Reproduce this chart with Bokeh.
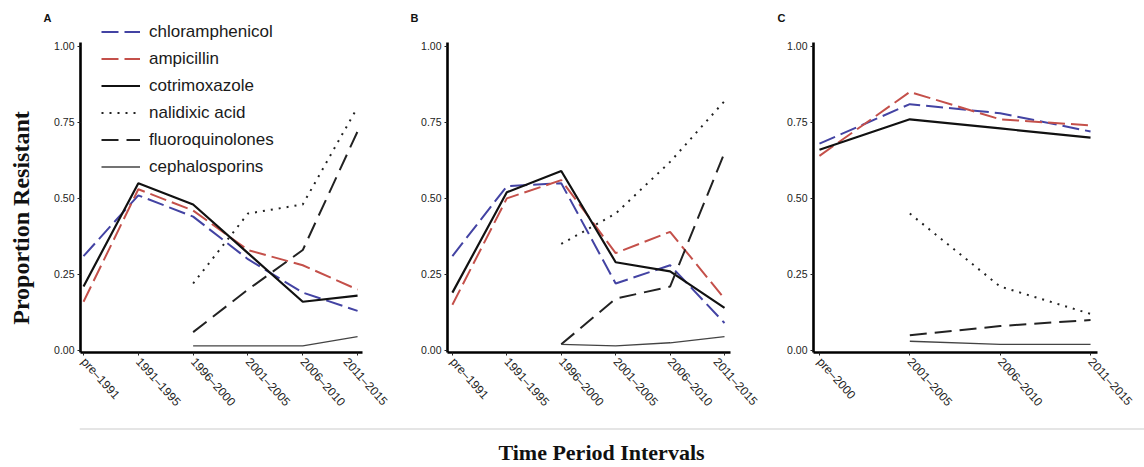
import math
from bokeh.plotting import figure
from bokeh.layouts import column, row
from bokeh.models import (Range1d, FixedTicker, NumeralTickFormatter, Legend,
                          LegendItem, Label, Span, LinearAxis)
from bokeh.embed import file_html
from bokeh.resources import INLINE

nan = float("nan")

# ---------------- data ----------------
periods_ab = ["pre\u20131991", "1991\u20131995", "1996\u20132000",
              "2001\u20132005", "2006\u20132010", "2011\u20132015"]
periods_c = ["pre\u20132000", "2001\u20132005", "2006\u20132010", "2011\u20132015"]

drugs = ["chloramphenicol", "ampicillin", "cotrimoxazole",
         "nalidixic acid", "fluoroquinolones", "cephalosporins"]

# Panel A
chloramphenicol_a = [0.31, 0.51, 0.44, 0.30, 0.19, 0.13]
ampicillin_a = [0.16, 0.53, 0.46, 0.33, 0.28, 0.20]
cotrimoxazole_a = [0.21, 0.55, 0.48, 0.32, 0.16, 0.18]
nalidixic_a = [nan, nan, 0.22, 0.45, 0.48, 0.80]
fluoroquinolones_a = [nan, nan, 0.06, 0.20, 0.33, 0.72]
cephalosporins_a = [nan, nan, 0.015, 0.015, 0.015, 0.045]

# Panel B
chloramphenicol_b = [0.31, 0.54, 0.55, 0.22, 0.28, 0.09]
ampicillin_b = [0.15, 0.50, 0.56, 0.32, 0.39, 0.17]
cotrimoxazole_b = [0.19, 0.52, 0.59, 0.29, 0.26, 0.14]
nalidixic_b = [nan, nan, 0.35, 0.45, 0.62, 0.82]
fluoroquinolones_b = [nan, nan, 0.02, 0.17, 0.21, 0.65]
cephalosporins_b = [nan, nan, 0.02, 0.015, 0.025, 0.045]

# Panel C
chloramphenicol_c = [0.68, 0.81, 0.78, 0.72]
ampicillin_c = [0.64, 0.85, 0.76, 0.74]
cotrimoxazole_c = [0.66, 0.76, 0.73, 0.70]
nalidixic_c = [nan, 0.45, 0.21, 0.12]
fluoroquinolones_c = [nan, 0.05, 0.08, 0.10]
cephalosporins_c = [nan, 0.03, 0.02, 0.02]

y_ticks = [0.0, 0.25, 0.50, 0.75, 1.0]

# ---------------- styles ----------------
styles = {
    "chloramphenicol": dict(line_color="#4343a3", line_dash="17 6", line_width=2.0),
    "ampicillin": dict(line_color="#c4504a", line_dash="17 6", line_width=2.0),
    "cotrimoxazole": dict(line_color="#111111", line_width=2.2),
    "nalidixic acid": dict(line_color="#222222", line_dash="2 6", line_width=2.0),
    "fluoroquinolones": dict(line_color="#222222", line_dash="17 8", line_width=2.0),
    "cephalosporins": dict(line_color="#444444", line_width=1.3),
}

FONT = "Liberation Sans"
SERIF = "Liberation Serif"
PANEL_H = 428
FRAME_TOP = 23
FRAME_BOTTOM = 352          # pixel row of the x axis line
PX_PER_UNIT = 304.0
Y0, Y1 = -0.007, 1.013
Y_END = Y0 + (FRAME_BOTTOM - FRAME_TOP) / PX_PER_UNIT


def make_panel(periods, series, width, b_left, b_right, x_start, x_end,
               letter, letter_offset):
    p = figure(width=width, height=PANEL_H, output_backend="svg", toolbar_location=None,
               x_range=Range1d(x_start, x_end), y_range=Range1d(Y0, Y_END),
               min_border_left=b_left, min_border_right=b_right,
               min_border_top=FRAME_TOP, min_border_bottom=PANEL_H - FRAME_BOTTOM)
    p.outline_line_color = None
    p.xgrid.visible = False
    p.ygrid.visible = False
    p.background_fill_color = "white"
    p.border_fill_color = "white"

    xs = list(range(len(periods)))
    renderers = {}
    for name, vals in zip(drugs, series):
        renderers[name] = p.line(xs, vals, **styles[name])

    for ax in (p.xaxis[0], p.yaxis[0]):
        ax.axis_line_color = "black"
        ax.axis_line_width = 2.6
        ax.major_tick_line_color = "#222222"
        ax.major_tick_line_width = 1
        ax.major_tick_out = 3
        ax.major_tick_in = 0
        ax.minor_tick_line_color = None
        ax.major_label_text_font = FONT
        ax.major_label_text_color = "#222222"

    p.xaxis.ticker = FixedTicker(ticks=xs)
    p.xaxis.major_label_overrides = {i: lab for i, lab in enumerate(periods)}
    p.xaxis.major_label_orientation = -0.84
    p.xaxis.major_label_text_font_size = "12px"
    p.xaxis.major_label_standoff = 4

    p.yaxis.ticker = FixedTicker(ticks=y_ticks)
    p.yaxis.formatter = NumeralTickFormatter(format="0.00")
    p.yaxis.major_label_text_font_size = "10.5px"
    p.yaxis.major_label_standoff = 3
    p.yaxis.bounds = (Y0, Y1)

    p.title.text = letter
    p.title.align = "left"
    p.title.offset = letter_offset
    p.title.standoff = 0
    p.title.text_font = FONT
    p.title.text_font_style = "bold"
    p.title.text_font_size = "11px"
    p.title.text_color = "#111111"
    return p, renderers


pA, rA = make_panel(periods_ab,
                    [chloramphenicol_a, ampicillin_a, cotrimoxazole_a,
                     nalidixic_a, fluoroquinolones_a, cephalosporins_a],
                    390, 80, 28, -0.055, 5.09, "A", -37)
pB, rB = make_panel(periods_ab,
                    [chloramphenicol_b, ampicillin_b, cotrimoxazole_b,
                     nalidixic_b, fluoroquinolones_b, cephalosporins_b],
                    370, 57, 30, -0.09, 5.11, "B", -37)
pC, rC = make_panel(periods_c,
                    [chloramphenicol_c, ampicillin_c, cotrimoxazole_c,
                     nalidixic_c, fluoroquinolones_c, cephalosporins_c],
                    384, 53, 47, -0.066, 3.077, "C", -36)

# Y axis title: a tick-less extra axis; trailing wide spaces move the visible
# words down to where the reference has them
ytitle_axis = LinearAxis(ticker=FixedTicker(ticks=[]),
                         axis_line_color=None, major_tick_line_color=None,
                         minor_tick_line_color=None, major_tick_out=0, minor_tick_out=0,
                         major_label_standoff=0, major_label_text_font_size="1px",
                         axis_label="Proportion Resistant\u2003\u2003\u2002",
                         axis_label_standoff=18,
                         axis_label_text_font=SERIF, axis_label_text_font_style="bold",
                         axis_label_text_font_size="24px", axis_label_text_color="#111111")
pA.add_layout(ytitle_axis, "left")

# Legend (panel A)
legend = Legend(items=[LegendItem(label=d, renderers=[rA[d]]) for d in drugs],
                location=(21, 172),
                glyph_width=39, glyph_height=27, label_height=27, spacing=0,
                padding=10, margin=0, label_standoff=9,
                label_text_font=FONT, label_text_font_size="17px",
                label_text_color="#1a1a1a",
                border_line_color=None, background_fill_color="white",
                background_fill_alpha=1.0)
pA.add_layout(legend)

# Bottom strip with the x title
pX = figure(width=1144, height=467 - PANEL_H, output_backend="svg", toolbar_location=None,
            x_range=Range1d(0, 1), y_range=Range1d(0, 1),
            min_border_left=79, min_border_right=0, min_border_top=0, min_border_bottom=0)
pX.axis.visible = False
pX.grid.visible = False
pX.outline_line_color = None
pX.add_layout(Span(location=1, dimension="width", line_color="#cccccc", line_width=2))
pX.add_layout(Label(x=601 - 79, y=15, x_units="screen", y_units="screen",
                    text="Time Period Intervals", text_font=SERIF,
                    text_font_style="bold", text_font_size="22px",
                    text_color="#111111", text_align="center", text_baseline="middle"))

layout = column(row(pA, pB, pC, spacing=0), pX, spacing=0)

with open("out.html", "w") as f:
    f.write(file_html(layout, INLINE))
